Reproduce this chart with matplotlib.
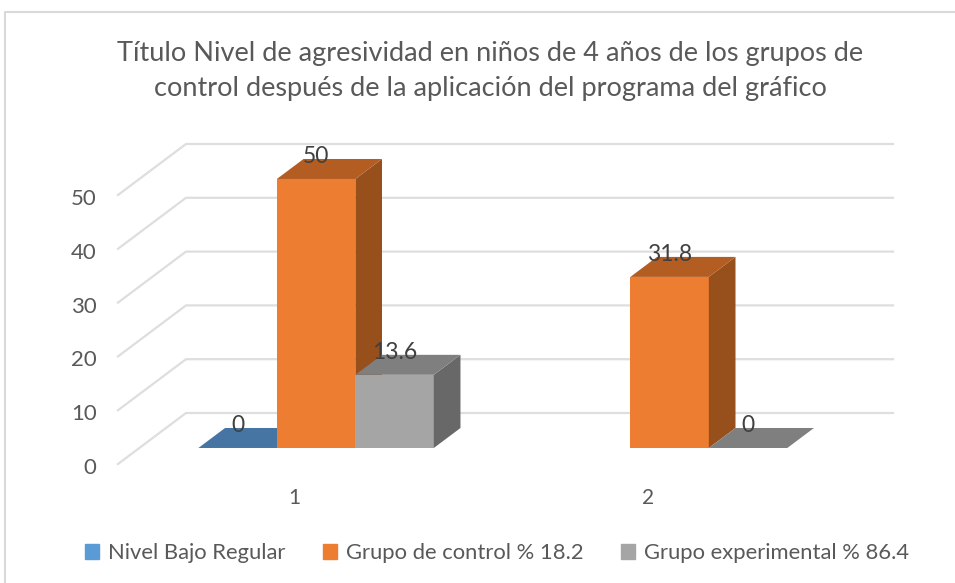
import numpy as np
import matplotlib
matplotlib.use('Agg')
import matplotlib.pyplot as plt
from matplotlib.lines import Line2D
from matplotlib.patches import Patch, Polygon
from matplotlib.transforms import ScaledTranslation

plt.rcParams['font.family'] = ['Lato', 'DejaVu Sans']

titulo = 'Título Nivel de agresividad en niños de 4 años de los grupos de\ncontrol después de la aplicación del programa del gráfico'
categorias = [1, 2]
ticks_y = [0, 10, 20, 30, 40, 50]
nivel_bajo = [0, np.nan]
grupo_control = [50, 31.8]
grupo_experimental = [13.6, 0]
nombres = ['Nivel Bajo Regular', 'Grupo de control % 18.2', 'Grupo experimental % 86.4']

W, H = 955, 583
fig = plt.figure(figsize=(W / 100, H / 100), dpi=100, facecolor='white')
# plano frontal del eje: x 118-825 px, y 195-464 px
ax = fig.add_axes([118 / W, 1 - 464 / H, 707 / W, 269 / H])
ax.set_xlim(0.5, 2.5)
ax.set_ylim(0, 50)
ax.patch.set_visible(False)
for s in ax.spines.values():
    s.set_visible(False)

# profundidad del falso 3D en unidades de datos
prof_x = 68 / 353.5
prof_y = 51 / 5.38
d0, d1 = 0.314, 0.706
ancho = 0.222


def p(x, y, d):
    return (x + prof_x * d, y + prof_y * d)


for t in ticks_y:
    ax.plot([0.5, 0.5 + prof_x, 2.5 + prof_x], [t, t + prof_y, t + prof_y],
            color='#DEDEDE', lw=1.6, clip_on=False, zorder=1)

series = [
    (nivel_bajo, -1, '#5B9BD5', '#4675A3', '#34587B'),
    (grupo_control, 0, '#ED7D31', '#B35D22', '#974F1B'),
    (grupo_experimental, 1, '#A5A5A5', '#7F7F7F', '#686868'),
]
z = 2
for valores, k, frente, arriba, lado in series:
    for cat, v in zip(categorias, valores):
        if np.isnan(v):
            continue
        x0 = cat + (k - 0.5) * ancho
        x1 = x0 + ancho
        if v > 0:
            ax.add_patch(Polygon([p(x0, 0, d0), p(x1, 0, d0), p(x1, v, d0), p(x0, v, d0)],
                                 fc=frente, ec='none', clip_on=False, zorder=z))
            ax.add_patch(Polygon([p(x1, 0, d0), p(x1, 0, d1), p(x1, v, d1), p(x1, v, d0)],
                                 fc=lado, ec='none', clip_on=False, zorder=z))
        ax.add_patch(Polygon([p(x0, v, d0), p(x1, v, d0), p(x1, v, d1), p(x0, v, d1)],
                             fc=arriba, ec='none', clip_on=False, zorder=z))
        z += 1
        xt, yt = p(x0 + ancho / 2, v, d1)
        ax.annotate(f'{v:g}', (p(x0 + ancho / 2, v, d0)[0], yt), xytext=(0, 2),
                    textcoords='offset points', ha='center', va='center',
                    fontsize=16.5, color='#404040', zorder=20, annotation_clip=False)

ax.set_xticks(categorias)
ax.set_xticklabels(categorias, fontsize=15, color='#595959')
ax.set_yticks(ticks_y)
ax.set_yticklabels(ticks_y, fontsize=16, color='#595959')
ax.tick_params(axis='x', length=0, pad=17)
ax.tick_params(axis='y', length=0, pad=15.5)
# las etiquetas del eje y van un poco por debajo de cada linea
baja = ScaledTranslation(0, -2 / 100, fig.dpi_scale_trans)
for lab in ax.get_yticklabels():
    lab.set_transform(lab.get_transform() + baja)

fig.suptitle(titulo, x=490 / W, y=1 - 71 / H, va='center', ha='center',
             fontsize=19.5, color='#595959', linespacing=1.52)

manejadores = [Patch(color=c) for c in ['#5B9BD5', '#ED7D31', '#A5A5A5']]
fig.legend(manejadores, nombres, ncols=3, loc='center', bbox_to_anchor=(497 / W, 1 - 553 / H),
           frameon=False, fontsize=15.8, labelcolor='#595959', handlelength=0.65, handleheight=0.7,
           handletextpad=0.4, columnspacing=1.7)

# borde del cuadro del grafico
fig.add_artist(Line2D([5 / W, 5 / W, 1], [0, 1 - 12 / H, 1 - 12 / H], color='#D9D9D9', lw=1.5))

fig.savefig('out.png', dpi=100)
